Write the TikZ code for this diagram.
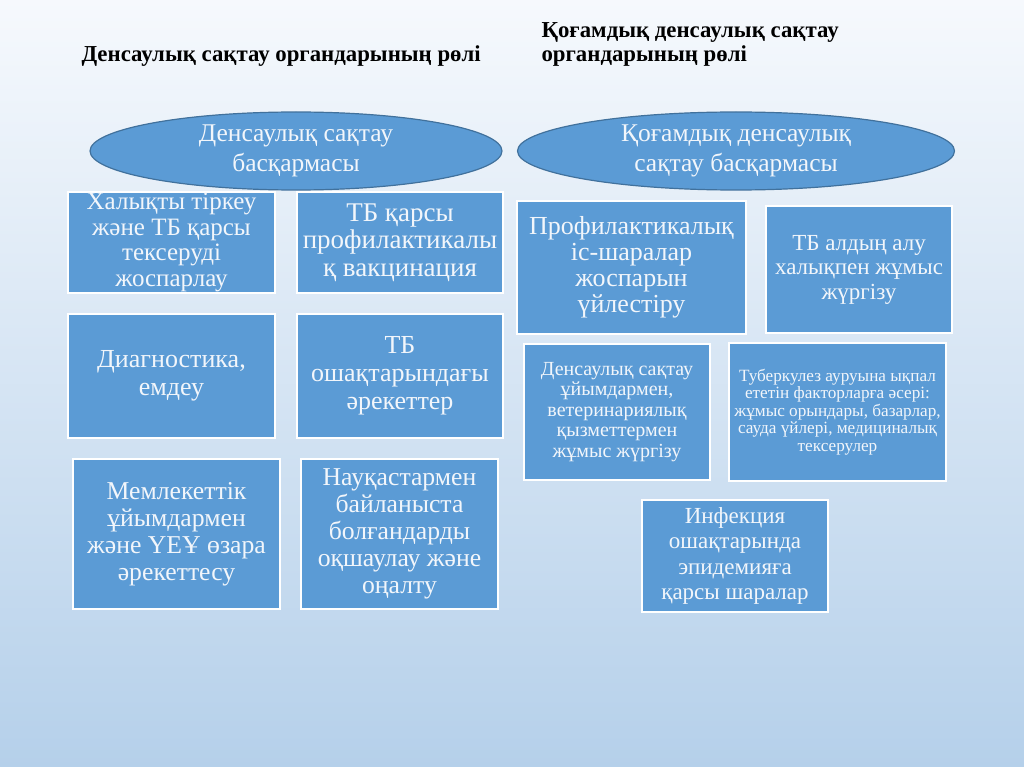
\documentclass[tikz,border=0pt]{standalone}
\usepackage{fontspec}
\setmainfont{Liberation Serif}
\usetikzlibrary{shapes.geometric}
\definecolor{boxblue}{HTML}{5B9BD5}
\definecolor{rimblue}{HTML}{41719C}
\definecolor{boxtext}{HTML}{F2F6FB}
\definecolor{bgtop}{HTML}{F6F9FD}
\definecolor{bgbottom}{HTML}{B5D0EA}

\tikzset{
  tbbox/.style={draw=white, line width=1.5pt, fill=boxblue, text=boxtext,
    align=center, inner sep=1pt},
  headoval/.style={ellipse, draw=rimblue, line width=1.2pt, fill=boxblue,
    text=boxtext, align=center, inner sep=0pt,
    font=\fontsize{25.5}{30}\selectfont},
  roletitle/.style={anchor=west, align=left,
    font=\bfseries\fontsize{22.8}{24}\selectfont}
}

\begin{document}
\begin{tikzpicture}[x=1pt,y=-1pt]
  \useasboundingbox (0,0) rectangle (1024,767);
  \shade[top color=bgtop, bottom color=bgbottom] (0,0) rectangle (1024,767);

  % headings
  \node[roletitle] (lefttitle) at (78,56) {Денсаулық сақтау органдарының рөлі};
  \node[roletitle] (righttitle) at (538,44) {Қоғамдық денсаулық сақтау\\органдарының рөлі};

  % the two administrations
  \node[headoval, minimum width=412pt, minimum height=78pt] (leftoval) at (296,151)
    {Денсаулық сақтау\\басқармасы};
  \node[headoval, minimum width=437pt, minimum height=78pt] (rightoval) at (736,151)
    {Қоғамдық денсаулық\\сақтау басқармасы};

  % left column
  \node[tbbox, minimum width=207pt, minimum height=101pt, font=\fontsize{25}{25.5}\selectfont]
    (register) at (171.5,242.5) {Халықты тіркеу\\және ТБ қарсы\\тексеруді\\жоспарлау};
  \node[tbbox, minimum width=206pt, minimum height=101pt, font=\fontsize{27}{27.5}\selectfont]
    (vaccine) at (400,242.5) {ТБ қарсы\\профилактикалы\\қ вакцинация};
  \node[tbbox, minimum width=207pt, minimum height=124pt, font=\fontsize{26}{28}\selectfont]
    (diagnose) at (171.5,376) {Диагностика,\\емдеу};
  \node[tbbox, minimum width=206pt, minimum height=124pt, font=\fontsize{26}{28}\selectfont]
    (focus) at (400,376) {ТБ\\ошақтарындағы\\әрекеттер};
  \node[tbbox, minimum width=207pt, minimum height=150pt, font=\fontsize{25.7}{27}\selectfont]
    (ngo) at (176.5,534) {Мемлекеттік\\ұйымдармен\\және ҮЕҰ өзара\\әрекеттесу};
  \node[tbbox, minimum width=197pt, minimum height=150pt, font=\fontsize{25.7}{27}\selectfont]
    (isolate) at (399.5,534) {Науқастармен\\байланыста\\болғандарды\\оқшаулау және\\оңалту};

  % right column
  \node[tbbox, minimum width=229pt, minimum height=133pt, font=\fontsize{26}{26}\selectfont]
    (plan) at (631.5,267.5) {Профилактикалық\\іс-шаралар\\жоспарын\\үйлестіру};
  \node[tbbox, minimum width=186pt, minimum height=127pt, font=\fontsize{23}{24.5}\selectfont]
    (people) at (859,269.5) {ТБ алдың алу\\халықпен жұмыс\\жүргізу};
  \node[tbbox, minimum width=186pt, minimum height=136pt, font=\fontsize{20}{20.5}\selectfont]
    (vets) at (617,412) {Денсаулық сақтау\\ұйымдармен,\\ветеринариялық\\қызметтермен\\жұмыс жүргізу};
  \node[tbbox, minimum width=217pt, minimum height=138pt, font=\fontsize{17.2}{17.5}\selectfont]
    (factors) at (837.5,412) {Туберкулез ауруына ықпал\\ететін факторларға әсері:\\жұмыс орындары, базарлар,\\сауда үйлері, медициналық\\тексерулер};
  \node[tbbox, minimum width=186pt, minimum height=112pt, font=\fontsize{23}{25.5}\selectfont]
    (epidemic) at (735,556) {Инфекция\\ошақтарында\\эпидемияға\\қарсы шаралар};
\end{tikzpicture}
\end{document}
